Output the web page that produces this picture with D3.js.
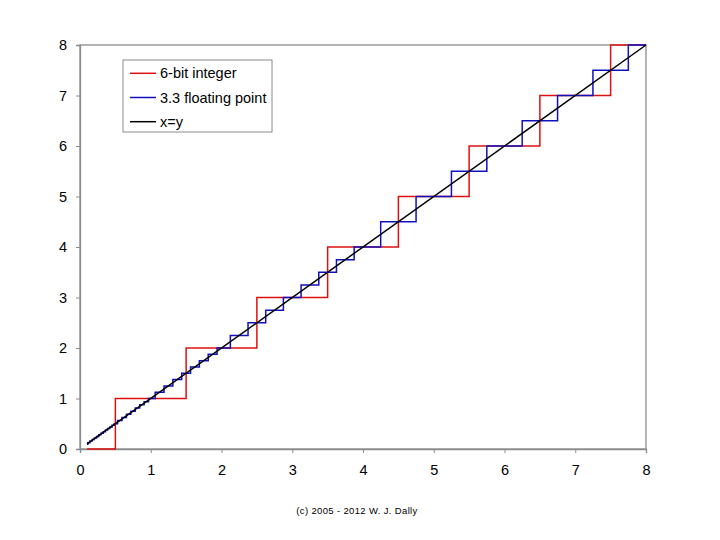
<!DOCTYPE html>
<html><head><meta charset="utf-8">
<script src="https://cdn.jsdelivr.net/npm/d3@7"></script>
<style>body{margin:0;background:#fff;}svg{display:block;font-family:"Liberation Sans",Arial,sans-serif;}</style>
</head><body>
<svg id="c" width="720" height="540"></svg>
<script>
// Axis ticks
const xTicks = [0,1,2,3,4,5,6,7,8];
const yTicks = [0,1,2,3,4,5,6,7,8];
// Series names
const seriesNames = ["6-bit integer","3.3 floating point","x=y"];
// 6-bit integer: step start x and held value
const redX = [0.1, 0.5, 1.5, 2.5, 3.5, 4.5, 5.5, 6.5, 7.5, 8];
const redY = [0, 1, 2, 3, 4, 5, 6, 7, 8, 8];
// 3.3 floating point: step start x and held value
const blueX = [0.1, 0.109375, 0.140625, 0.171875, 0.203125, 0.234375, 0.265625, 0.296875, 0.328125, 0.359375, 0.390625, 0.421875, 0.453125, 0.484375,
  0.53125, 0.59375, 0.65625, 0.71875, 0.78125, 0.84375, 0.90625, 0.96875,
  1.0625, 1.1875, 1.3125, 1.4375, 1.5625, 1.6875, 1.8125, 1.9375,
  2.125, 2.375, 2.625, 2.875, 3.125, 3.375, 3.625, 3.875,
  4.25, 4.75, 5.25, 5.75, 6.25, 6.75, 7.25, 7.75, 8];
const blueY = [0.09375, 0.125, 0.15625, 0.1875, 0.21875, 0.25, 0.28125, 0.3125, 0.34375, 0.375, 0.40625, 0.4375, 0.46875, 0.5,
  0.5625, 0.625, 0.6875, 0.75, 0.8125, 0.875, 0.9375, 1,
  1.125, 1.25, 1.375, 1.5, 1.625, 1.75, 1.875, 2,
  2.25, 2.5, 2.75, 3, 3.25, 3.5, 3.75, 4,
  4.5, 5, 5.5, 6, 6.5, 7, 7.5, 8, 8];
// x=y reference
const lineX = [0.1, 8];
const lineY = [0.1, 8];

const colors = ["#e01010", "#1010c0", "#000000"];
const L = 80, R = 646, T = 45, B = 449;
const svg = d3.select("#c");
const x = d3.scaleLinear().domain([0,8]).range([L,R]);
const y = d3.scaleLinear().domain([0,8]).range([B,T]);

// plot border
svg.append("rect").attr("x",L).attr("y",T).attr("width",R-L).attr("height",B-T)
  .attr("fill","#fff").attr("stroke","#8c8c8c").attr("stroke-width",1.3);

const xa = svg.append("g").attr("transform",`translate(0,${B})`)
  .call(d3.axisBottom(x).tickValues(xTicks).tickFormat(d3.format("d")).tickSize(4).tickPadding(12));
const ya = svg.append("g").attr("transform",`translate(${L},0)`)
  .call(d3.axisLeft(y).tickValues(yTicks).tickFormat(d3.format("d")).tickSize(4).tickPadding(9));
[xa,ya].forEach(g=>{
  g.select(".domain").attr("stroke","#8c8c8c").attr("stroke-width",1.3);
  g.selectAll(".tick line").attr("stroke","#8c8c8c");
  g.selectAll("text").attr("font-size",14.5).attr("fill","#000").attr("font-family","'Liberation Sans',Arial,sans-serif");
});

const stepLine = d3.line().x(d=>x(d[0])).y(d=>y(d[1])).curve(d3.curveStepAfter);
const straight = d3.line().x(d=>x(d[0])).y(d=>y(d[1]));
const data = [
  {pts: redX.map((v,i)=>[v,redY[i]]), gen: stepLine},
  {pts: blueX.map((v,i)=>[v,blueY[i]]), gen: stepLine},
  {pts: lineX.map((v,i)=>[v,lineY[i]]), gen: straight}
];
data.forEach((s,i)=>{
  svg.append("path").attr("d", s.gen(s.pts)).attr("fill","none")
    .attr("stroke",colors[i]).attr("stroke-width",1.5);
});

// legend
const lg = svg.append("g");
lg.append("rect").attr("x",123).attr("y",60).attr("width",149).attr("height",72)
  .attr("fill","#fff").attr("stroke","#8c8c8c").attr("stroke-width",1);
seriesNames.forEach((n,i)=>{
  const yy = 73.3 + i*24.2;
  lg.append("line").attr("x1",130).attr("x2",156).attr("y1",yy).attr("y2",yy)
    .attr("stroke",colors[i]).attr("stroke-width",1.5);
  lg.append("text").attr("x",160).attr("y",yy).attr("dy","0.35em")
    .attr("font-size",14.5).text(n);
});

svg.append("text").attr("x",357).attr("y",514).attr("text-anchor","middle")
  .attr("font-size",9.5).attr("letter-spacing",0.35).attr("fill","#000").text("(c) 2005 - 2012  W. J. Dally");
</script>
</body></html>
